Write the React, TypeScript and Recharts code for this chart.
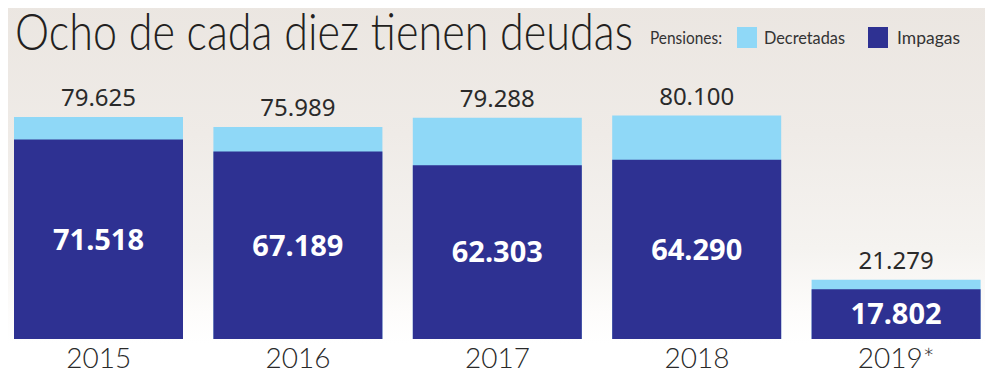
import { BarChart, Bar, XAxis, YAxis, LabelList } from "recharts";

const YEARS = ["2015", "2016", "2017", "2018", "2019*"];
const DECRETADAS = [79625, 75989, 79288, 80100, 21279];
const IMPAGAS = [71518, 67189, 62303, 64290, 17802];

const LIGHT = "#8fd8f7";
const DARK = "#2e3192";

const data = YEARS.map((year, i) => ({
  year,
  decretadas: DECRETADAS[i],
  impagas: IMPAGAS[i],
}));

const fmt = (v: any) =>
  String(v).replace(/\B(?=(\d{3})+(?!\d))/g, ".");

function YearTick({ x, payload }: any) {
  return (
    <text
      x={x}
      y={368}
      textAnchor="middle"
      fontFamily="Lato, 'Liberation Sans', sans-serif"
      fontWeight={300}
      fontSize={28}
      fill="#2a2a2a"
    >
      {payload.value}
    </text>
  );
}

export default function App() {
  return (
    <div
      style={{
        position: "relative",
        width: 993,
        height: 382,
        margin: -8,
        overflow: "hidden",
        background:
          "linear-gradient(to bottom, #ebe6e1 0%, #efebe7 35%, #f5f3f0 65%, #fdfcfb 82%, #ffffff 90%)",
      }}
    >
      <svg
        width={993}
        height={80}
        style={{ position: "absolute", left: 0, top: 0 }}
      >
        <text
          x={15}
          y={50}
          fontFamily="Lato, 'Liberation Sans', sans-serif"
          fontWeight={300}
          fontSize={52}
          fill="#231f20"
          textLength={618}
          lengthAdjust="spacingAndGlyphs"
        >
          Ocho de cada diez tienen deudas
        </text>
        <g
          fontFamily="Lato, 'Liberation Sans', sans-serif"
          fontSize={17}
          fill="#333"
        >
          <text x={650} y={44} textLength={72} lengthAdjust="spacingAndGlyphs">
            Pensiones:
          </text>
          <rect x={737} y={27} width={20} height={21} fill={LIGHT} />
          <text x={764} y={44} textLength={81} lengthAdjust="spacingAndGlyphs">
            Decretadas
          </text>
          <rect x={868} y={27} width={20} height={21} fill={DARK} />
          <text x={897} y={44} textLength={63} lengthAdjust="spacingAndGlyphs">
            Impagas
          </text>
        </g>
      </svg>
      <div style={{ position: "absolute", left: -1, top: 0 }}>
        <BarChart
          width={997}
          height={382}
          data={data}
          margin={{ top: 88, right: 0, bottom: 0, left: 0 }}
        >
          <XAxis
            xAxisId="total"
            dataKey="year"
            axisLine={false}
            tickLine={false}
            height={43}
            interval={0}
            tick={<YearTick />}
          />
          <XAxis xAxisId="imp" dataKey="year" hide />
          <YAxis hide domain={[0, 90000]} />
          <Bar
            xAxisId="total"
            dataKey="decretadas"
            fill={LIGHT}
            barSize={169}
            isAnimationActive={false}
          >
            <LabelList
              dataKey="decretadas"
              position="top"
              offset={11}
              formatter={fmt}
              fill="#2a2a2a"
              fontSize={24}
              fontFamily="'Noto Sans', 'Open Sans', sans-serif"
            />
          </Bar>
          <Bar
            xAxisId="imp"
            dataKey="impagas"
            fill={DARK}
            barSize={169}
            isAnimationActive={false}
          >
            <LabelList
              dataKey="impagas"
              position="center"
              formatter={fmt}
              fill="#ffffff"
              fontSize={29}
              fontWeight={700}
              fontFamily="'Noto Sans', 'Open Sans', sans-serif"
            />
          </Bar>
        </BarChart>
      </div>
    </div>
  );
}
